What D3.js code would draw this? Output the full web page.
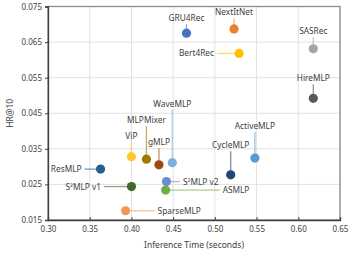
<!DOCTYPE html>
<html>
<head>
<meta charset="utf-8">
<script src="https://cdn.jsdelivr.net/npm/d3@7"></script>
<style>
  html, body { margin: 0; padding: 0; background: white; overflow: hidden; }
  svg { display: block; }
</style>
</head>
<body>
<svg width="354" height="257"></svg>
<script>
// data
const models = ['GRU4Rec', 'NextItNet', 'Bert4Rec', 'SASRec', 'HireMLP', 'ActiveMLP', 'CycleMLP',
  'ResMLP', 'ViP', 'MLPMixer', 'gMLP', 'WaveMLP', 'S²MLP v2', 'S²MLP v1', 'ASMLP', 'SparseMLP'];
const inferenceTime = [0.466, 0.523, 0.529, 0.618, 0.618, 0.548, 0.519,
  0.363, 0.400, 0.418, 0.433, 0.449, 0.442, 0.400, 0.441, 0.393];
const hr10 = [0.0675, 0.0687, 0.0618, 0.0631, 0.0492, 0.0324, 0.0277,
  0.0293, 0.0328, 0.0321, 0.0305, 0.0311, 0.0258, 0.0244, 0.0234, 0.0176];
const xTicks = [0.30, 0.35, 0.40, 0.45, 0.50, 0.55, 0.60, 0.65];
const yTicks = [0.015, 0.025, 0.035, 0.045, 0.055, 0.065, 0.075];

// styling / label layout (pixels)
const colors = ['#4472c4', '#ed7d31', '#ffc000', '#a5a5a5', '#595959', '#5b9bd5', '#264478',
  '#255e91', '#ffc72c', '#9e7a00', '#9e480e', '#7cafdd', '#698ed0', '#43682b', '#70ad47', '#f1975a'];
// side: 'top' => label above dot at distance d, 'left'/'right' => gap d to label end/start
const labelSide = ['top', 'top', 'left', 'top', 'top', 'top', 'top',
  'left', 'top', 'top', 'top', 'top', 'right', 'left', 'right', 'right'];
const labelDist = [15, 16.5, 25, 17.5, 20, 32, 29.5,
  19, 21, 39, 22.5, 59, 16.5, 30.5, 57, 32];

const font = '"Noto Sans", "Open Sans", sans-serif';
const textColor = '#404040';

const svg = d3.select('svg');
const width = +svg.attr('width');
const height = +svg.attr('height');
const margin = {top: 6.5, right: 14, bottom: 37, left: 48};
const innerWidth = width - margin.left - margin.right;
const innerHeight = height - margin.top - margin.bottom;

const x = d3.scaleLinear().domain([0.30, 0.65]).range([0, innerWidth]);
const y = d3.scaleLinear().domain([0.015, 0.075]).range([innerHeight, 0]);

const g = svg.append('g').attr('transform', `translate(${margin.left},${margin.top})`);

// grid
g.append('g').selectAll('line').data(xTicks).enter().append('line')
  .attr('x1', d => x(d)).attr('x2', d => x(d)).attr('y1', 0).attr('y2', innerHeight)
  .attr('stroke', '#e2e2e2').attr('stroke-width', 1);
g.append('g').selectAll('line').data(yTicks).enter().append('line')
  .attr('y1', d => y(d)).attr('y2', d => y(d)).attr('x1', 0).attr('x2', innerWidth)
  .attr('stroke', '#e2e2e2').attr('stroke-width', 1);

// frame
g.append('rect').attr('width', innerWidth).attr('height', innerHeight)
  .attr('fill', 'none').attr('stroke', '#8c8c8c').attr('stroke-width', 1.3);

const yAxis = g.append('g')
  .call(d3.axisLeft(y).tickValues(yTicks).tickFormat(d3.format('.3f')).tickSize(3).tickPadding(3));
const xAxis = g.append('g').attr('transform', `translate(0,${innerHeight})`)
  .call(d3.axisBottom(x).tickValues(xTicks).tickFormat(d3.format('.2f')).tickSize(-3).tickPadding(6));
[xAxis, yAxis].forEach(a => {
  a.attr('font-size', 8).attr('font-family', font);
  a.select('.domain').attr('stroke', '#404040').attr('stroke-width', 1.3);
  a.selectAll('.tick line').attr('stroke', '#404040');
  a.selectAll('text').attr('fill', textColor);
});

svg.append('text').attr('x', margin.left + innerWidth / 2).attr('y', 248)
  .attr('text-anchor', 'middle').attr('font-family', font).attr('font-size', 8.5)
  .attr('fill', textColor).text('Inference Time (seconds)');
svg.append('text').attr('transform', `translate(13,${margin.top + innerHeight / 2}) rotate(-90)`)
  .attr('text-anchor', 'middle').attr('font-family', font).attr('font-size', 8.5)
  .attr('fill', textColor).text('HR@10');

const data = models.map((m, i) => ({name: m, t: inferenceTime[i], hr: hr10[i],
  color: colors[i], side: labelSide[i], dist: labelDist[i]}));

// leader lines
g.selectAll('.leader').data(data).enter().append('line')
  .attr('class', 'leader')
  .attr('x1', d => x(d.t)).attr('y1', d => y(d.hr))
  .attr('x2', d => d.side === 'top' ? x(d.t) : d.side === 'left' ? x(d.t) - d.dist + 3 : x(d.t) + d.dist - 3)
  .attr('y2', d => d.side === 'top' ? y(d.hr) - d.dist + 6 : y(d.hr))
  .attr('stroke', d => d.color).attr('stroke-opacity', 0.6).attr('stroke-width', 1.3);

// labels
g.selectAll('.lbl').data(data).enter().append('text')
  .attr('class', 'lbl')
  .attr('x', d => d.side === 'top' ? x(d.t) : d.side === 'left' ? x(d.t) - d.dist : x(d.t) + d.dist)
  .attr('y', d => (d.side === 'top' ? y(d.hr) - d.dist : y(d.hr)) + 3)
  .attr('text-anchor', d => d.side === 'top' ? 'middle' : d.side === 'left' ? 'end' : 'start')
  .attr('font-family', font).attr('font-size', 8.3).attr('fill', textColor)
  .text(d => d.name);

// dots
g.selectAll('circle').data(data).enter().append('circle')
  .attr('cx', d => x(d.t)).attr('cy', d => y(d.hr)).attr('r', 4.6)
  .attr('fill', d => d.color);
</script>
</body>
</html>
